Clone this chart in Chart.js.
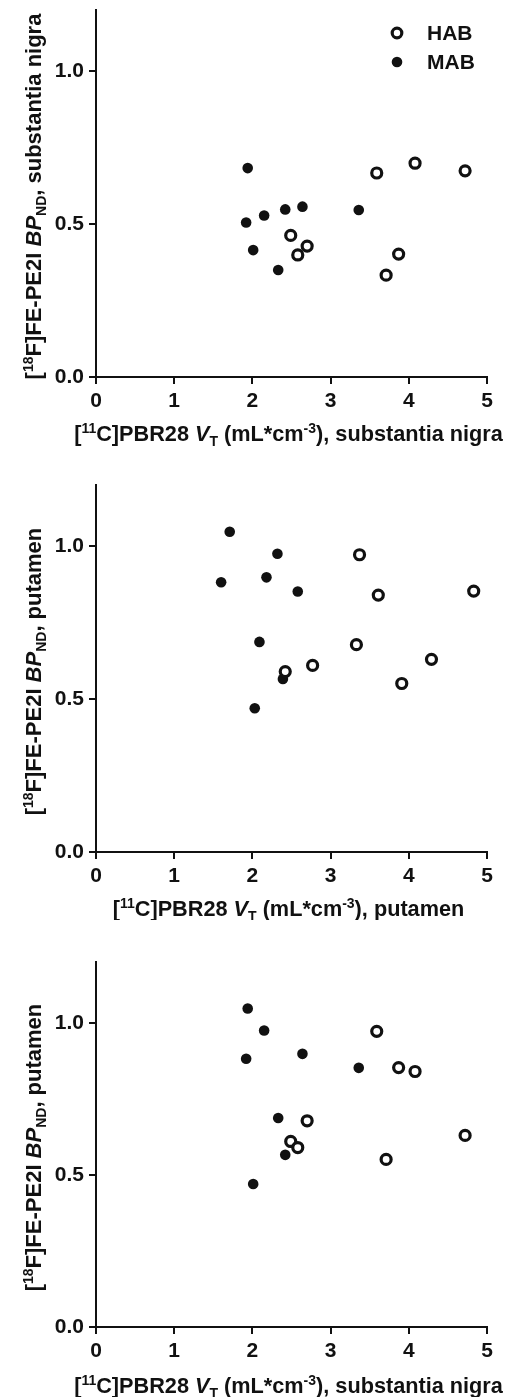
<!DOCTYPE html>
<html>
<head>
<meta charset="utf-8">
<script src="https://cdn.jsdelivr.net/npm/chart.js@4.4.0/dist/chart.umd.min.js"></script>
<style>
  body { margin: 0; background: #fff; }
  .panel { position: absolute; left: 0; width: 511px; }
</style>
</head>
<body>
<div class="panel" style="top:0px;height:460px"><canvas id="c1" width="511" height="460"></canvas></div>
<div class="panel" style="top:460px;height:460px"><canvas id="c2" width="511" height="460"></canvas></div>
<div class="panel" style="top:920px;height:477px"><canvas id="c3" width="511" height="477"></canvas></div>
<script>
// one entry per subject, same order in every array of a group
// HAB subjects
var habVtSN  = [2.49, 2.58, 2.70, 3.59, 4.08, 4.72, 3.71, 3.87];
var habBpSN  = [0.463, 0.399, 0.428, 0.667, 0.699, 0.674, 0.333, 0.402];
var habVtPut = [2.77, 2.42, 3.33, 3.37, 3.61, 4.29, 3.91, 4.83];
var habBpPut = [0.610, 0.590, 0.678, 0.972, 0.840, 0.630, 0.551, 0.853];
// MAB subjects
var mabVtSN  = [1.94, 1.92, 2.15, 2.01, 2.33, 2.42, 2.64, 3.36];
var mabBpSN  = [0.683, 0.505, 0.528, 0.415, 0.350, 0.548, 0.557, 0.546];
var mabVtPut = [1.71, 1.60, 2.32, 2.03, 2.09, 2.39, 2.18, 2.58];
var mabBpPut = [1.047, 0.882, 0.975, 0.470, 0.687, 0.566, 0.898, 0.852];

var xTicks = [0, 1, 2, 3, 4, 5];
var yTicks = [0, 0.5, 1.0];
var groupNames = ["HAB", "MAB"];

var FONT = '"Liberation Sans", Arial, sans-serif';

function pairs(xs, ys) {
  return xs.map(function (x, i) { return { x: x, y: ys[i] }; });
}

// axis titles with super/subscripts and italics
var xTitleSN = [["[", "n"], ["11", "sup"], ["C]PBR28 ", "n"], ["V", "i"], ["T", "sub"], [" (mL*cm", "n"], ["-3", "sup"], ["), substantia nigra", "n"]];
var xTitlePut = [["[", "n"], ["11", "sup"], ["C]PBR28 ", "n"], ["V", "i"], ["T", "sub"], [" (mL*cm", "n"], ["-3", "sup"], ["), putamen", "n"]];
var yTitleSN = [["[", "n"], ["18", "sup"], ["F]FE-PE2I ", "n"], ["BP", "i"], ["ND", "sub"], [", substantia nigra", "n"]];
var yTitlePut = [["[", "n"], ["18", "sup"], ["F]FE-PE2I ", "n"], ["BP", "i"], ["ND", "sub"], [", putamen", "n"]];

function segFont(kind, size) {
  if (kind === "sup" || kind === "sub") return "bold 14px " + FONT;
  if (kind === "i") return "italic bold " + size + "px " + FONT;
  return "bold " + size + "px " + FONT;
}

function drawRich(ctx, segs, cx, baseY, size) {
  var total = 0;
  segs.forEach(function (s) { ctx.font = segFont(s[1], size); total += ctx.measureText(s[0]).width; });
  var x = cx - total / 2;
  ctx.textAlign = "left";
  ctx.textBaseline = "alphabetic";
  segs.forEach(function (s) {
    ctx.font = segFont(s[1], size);
    var dy = s[1] === "sup" ? -8 : (s[1] === "sub" ? 5 : 0);
    ctx.fillText(s[0], x, baseY + dy);
    x += ctx.measureText(s[0]).width;
  });
}

var titlesPlugin = {
  id: "richTitles",
  afterDraw: function (chart, args, opts) {
    var ctx = chart.ctx, a = chart.chartArea;
    ctx.save();
    ctx.fillStyle = "#111";
    drawRich(ctx, opts.x, (a.left + a.right) / 2 - 3, opts.xBase, 21.7);
    ctx.translate(opts.yBase, (a.top + a.bottom) / 2 + 3);
    ctx.rotate(-Math.PI / 2);
    drawRich(ctx, opts.y, 0, 0, 22);
    ctx.restore();
  }
};

var legendPlugin = {
  id: "sideLegend",
  afterDraw: function (chart, args, opts) {
    if (!opts.show) return;
    var ctx = chart.ctx;
    ctx.save();
    ctx.font = "bold 21px " + FONT;
    ctx.textAlign = "left";
    ctx.textBaseline = "middle";
    ctx.fillStyle = "#111";
    // HAB
    ctx.beginPath();
    ctx.arc(397, 33, 4.8, 0, Math.PI * 2);
    ctx.lineWidth = 3.2;
    ctx.strokeStyle = "#111";
    ctx.stroke();
    ctx.fillText(groupNames[0], 427, 34);
    // MAB
    ctx.beginPath();
    ctx.arc(397, 62, 5.3, 0, Math.PI * 2);
    ctx.fill();
    ctx.fillText(groupNames[1], 427, 63);
    ctx.restore();
  }
};

function makeChart(id, height, top, bottom, hx, hy, mx, my, xt, yt, xBase, yBase, showLegend) {
  var xAxisH = height - bottom;
  return new Chart(document.getElementById(id), {
    type: "scatter",
    data: {
      datasets: [
        { label: groupNames[0], data: pairs(hx, hy), pointRadius: 5, pointHoverRadius: 5,
          backgroundColor: "#fff", borderColor: "#111", borderWidth: 3.2 },
        { label: groupNames[1], data: pairs(mx, my), pointRadius: 5.3, pointHoverRadius: 5.3,
          backgroundColor: "#111", borderColor: "#111", borderWidth: 0 }
      ]
    },
    options: {
      responsive: false,
      animation: false,
      events: [],
      layout: { padding: { top: top, right: 24, bottom: 0, left: 0 } },
      plugins: {
        legend: { display: false },
        tooltip: { enabled: false },
        richTitles: { x: xt, y: yt, xBase: xBase, yBase: yBase },
        sideLegend: { show: showLegend }
      },
      scales: {
        x: {
          type: "linear", min: 0, max: 5,
          afterBuildTicks: function (s) { s.ticks = xTicks.map(function (v) { return { value: v }; }); },
          afterFit: function (s) { s.height = xAxisH; s.paddingLeft = 0; s.paddingRight = 0; },
          ticks: { color: "#111", font: { family: FONT, size: 21, weight: "bold" }, padding: 5,
                   maxRotation: 0, callback: function (v) { return String(v); } },
          grid: { drawOnChartArea: false, color: "#111", lineWidth: 2, tickLength: 7 },
          border: { color: "#111", width: 2 }
        },
        y: {
          type: "linear", min: 0, max: 1.2,
          afterBuildTicks: function (s) { s.ticks = yTicks.map(function (v) { return { value: v }; }); },
          afterFit: function (s) { s.width = 96; s.paddingTop = 0; s.paddingBottom = 0; },
          ticks: { color: "#111", font: { family: FONT, size: 21, weight: "bold" }, padding: 5,
                   callback: function (v) { return v.toFixed(1); } },
          grid: { drawOnChartArea: false, color: "#111", lineWidth: 2, tickLength: 7 },
          border: { color: "#111", width: 2 }
        }
      }
    },
    plugins: [titlesPlugin, legendPlugin]
  });
}

makeChart("c1", 460, 10, 377, habVtSN, habBpSN, mabVtSN, mabBpSN, xTitleSN, yTitleSN, 441, 41, true);
makeChart("c2", 460, 25, 392, habVtPut, habBpPut, mabVtPut, mabBpPut, xTitlePut, yTitlePut, 456, 41, false);
makeChart("c3", 477, 42, 407, habVtSN, habBpPut, mabVtSN, mabBpPut, xTitleSN, yTitlePut, 473, 41, false);
</script>
</body>
</html>
